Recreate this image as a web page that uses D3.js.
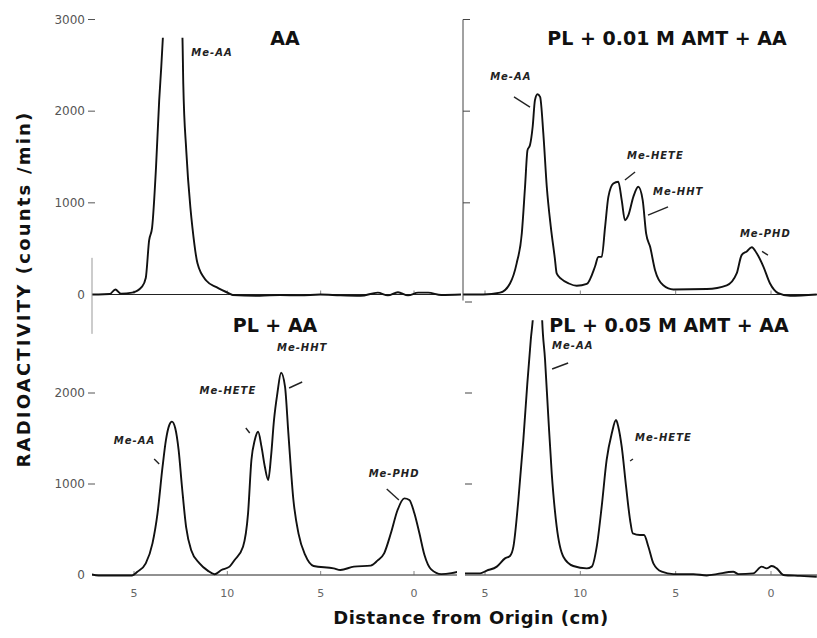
<!DOCTYPE html>
<html>
<head>
<meta charset="utf-8">
<script src="https://cdn.jsdelivr.net/npm/d3@7"></script>
<style>
  body { margin: 0; background: #fff; }
  svg { display: block; }
</style>
</head>
<body>
<svg id="chart" width="817" height="638"></svg>
<script>
// tick values (cm from origin, counts/min)
var yTickValues = [0, 1000, 2000, 3000];
var yTickLabels = ["0", "1000", "2000", "3000"];
var xTickValues = [15, 10, 5, 0];
var xTickLabels = ["5", "10", "5", "0"];

// AA alone
var distAA = [17.3, 16.9, 16.3, 16.0, 15.7, 15.1, 14.57, 14.37, 14.19, 14.03, 13.82, 13.65, 13.54, 13.44, 12.95, 12.41, 12.36, 12.2, 11.98, 11.87, 11.6, 11.12, 10.58, 9.88, 9.71, 8.26, 7.18, 6.1, 5.02, 3.94, 2.86, 1.94, 1.4, 0.86, 0.32, -0.22, -0.76, -1.46, -2.6];
var countsAA = [0, 0, 5, 55, 10, 20, 85, 180, 590, 730, 1390, 2120, 2480, 2850, 4200, 2850, 2300, 1570, 950, 730, 340, 150, 80, 10, -5, -15, -5, -10, 0, -10, -15, 20, -10, 25, -10, 20, 20, -5, 0];

// PL + 0.01 M AMT + AA
var distPL01 = [16.15, 15.09, 14.21, 13.69, 13.34, 13.07, 12.9, 12.77, 12.64, 12.5, 12.38, 12.25, 12.11, 11.94, 11.76, 11.55, 11.34, 11.24, 11.0, 10.6, 10.19, 9.66, 9.23, 9.06, 8.88, 8.7, 8.53, 8.27, 8.01, 7.83, 7.66, 7.48, 7.22, 6.96, 6.73, 6.55, 6.34, 6.08, 5.65, 5.12, 3.37, 2.32, 1.8, 1.54, 1.27, 1.01, 0.75, 0.4, 0.05, -0.38, -1.0, -2.4];
var countsPL01 = [0, 0, 20, 120, 340, 667, 1175, 1575, 1630, 1830, 2120, 2185, 2155, 1755, 1175, 740, 400, 230, 170, 120, 95, 115, 305, 410, 410, 740, 1065, 1210, 1230, 1030, 810, 865, 1065, 1175, 1030, 667, 520, 265, 100, 55, 60, 100, 230, 430, 470, 515, 450, 305, 120, 15, -15, 0];

// PL + AA
var distPLAA = [17.34, 16.9, 15.1, 14.82, 14.37, 14.01, 13.74, 13.47, 13.29, 13.11, 12.97, 12.79, 12.61, 12.43, 12.21, 11.94, 11.49, 11.05, 10.69, 10.32, 9.88, 9.61, 9.16, 8.89, 8.71, 8.53, 8.35, 8.17, 7.99, 7.81, 7.66, 7.5, 7.32, 7.12, 6.91, 6.73, 6.46, 6.19, 5.83, 5.38, 4.3, 3.94, 3.22, 2.32, 1.96, 1.6, 1.24, 0.88, 0.52, 0.25, -0.02, -0.29, -0.56, -0.92, -1.46, -2.0, -2.36];
var countsPLAA = [10, -5, -5, 35, 128, 348, 678, 1190, 1483, 1648, 1685, 1612, 1374, 970, 530, 275, 128, 48, 8, 55, 92, 165, 311, 678, 1264, 1483, 1575, 1410, 1190, 1044, 1300, 1703, 1997, 2223, 2070, 1557, 824, 458, 220, 99, 73, 55, 92, 103, 158, 238, 458, 714, 842, 824, 678, 458, 220, 62, 10, 20, 35];

// PL + 0.05 M AMT + AA
var distPL05 = [16.05, 15.26, 14.91, 14.38, 13.95, 13.69, 13.51, 13.25, 12.99, 12.78, 12.6, 12.46, 12.18, 12.02, 11.85, 11.68, 11.5, 11.24, 10.89, 10.37, 9.66, 9.4, 9.14, 8.88, 8.62, 8.35, 8.13, 8.01, 7.83, 7.6, 7.39, 7.25, 6.87, 6.66, 6.43, 6.17, 5.73, 5.12, 4.07, 3.37, 2.85, 1.98, 1.71, 0.93, 0.49, 0.23, -0.04, -0.3, -0.65, -1.52, -2.4];
var countsPL05 = [18, 18, 48, 92, 183, 209, 311, 824, 1483, 2106, 2582, 2900, 4500, 2900, 2363, 1740, 1118, 531, 201, 99, 73, 92, 311, 751, 1264, 1557, 1703, 1630, 1410, 970, 604, 458, 440, 440, 311, 128, 36, 10, 10, -5, 10, 36, 10, 18, 92, 73, 99, 73, 0, -10, -20];

function init() {

  var svg = d3.select("#chart");

  // two x scales (left column / right column), two y scales (top row / bottom row)
  var xLeft = d3.scaleLinear().domain([15, 0]).range([134, 414]);
  var xRight = d3.scaleLinear().domain([15, 0]).range([485, 771]);
  var yTop = d3.scaleLinear().domain([0, 3000]).range([294.5, 19.5]);
  var yBot = d3.scaleLinear().domain([0, 3000]).range([575, 302]);

  var clipTop = 2800;

  var panels = [
    {id: "aa", x: xLeft, y: yTop, dist: distAA, counts: countsAA, x0: 92, x1: 461, side: "left", row: "top",
     title: "AA", tx: 285, ty: 45,
     notes: [{t: "Me-AA", cx: 11.93, cy: 2602}]},
    {id: "pl01", x: xRight, y: yTop, dist: distPL01, counts: countsPL01, x0: 463, x1: 817, side: "right", row: "top",
     title: "PL + 0.01 M AMT + AA", tx: 667, ty: 45,
     notes: [{t: "Me-AA", cx: 14.73, cy: 2340, a: [13.48, 2155, 12.64, 2045]},
             {t: "Me-HETE", cx: 7.55, cy: 1478, a: [7.13, 1336, 7.66, 1249]},
             {t: "Me-HHT", cx: 6.19, cy: 1085, a: [5.40, 955, 6.45, 867]},
             {t: "Me-PHD", cx: 1.63, cy: 627, a: [0.47, 470, 0.16, 430]}]},
    {id: "plaa", x: xLeft, y: yBot, dist: distPLAA, counts: countsPLAA, x0: 92, x1: 457, side: "left", row: "bottom",
     title: "PL + AA", tx: 275, ty: 332,
     notes: [{t: "Me-AA", cx: 16.08, cy: 1440, a: [13.92, 1275, 13.65, 1220]},
             {t: "Me-HETE", cx: 11.49, cy: 1989, a: [9.01, 1615, 8.8, 1560]},
             {t: "Me-HHT", cx: 7.34, cy: 2462, a: [5.99, 2121, 6.69, 2055]},
             {t: "Me-PHD", cx: 2.43, cy: 1077, a: [1.46, 945, 0.81, 824]}]},
    {id: "pl05", x: xRight, y: yBot, dist: distPL05, counts: countsPL05, x0: 465, x1: 817, side: "right", row: "bottom",
     title: "PL + 0.05 M AMT + AA", tx: 669, ty: 332,
     notes: [{t: "Me-AA", cx: 11.48, cy: 2484, a: [10.64, 2330, 11.48, 2264]},
             {t: "Me-HETE", cx: 7.13, cy: 1473, a: [7.39, 1253, 7.24, 1275]}]}
  ];

  var defs = svg.append("defs");

  panels.forEach(function(p) {
    var g = svg.append("g").attr("class", "panel " + p.id);

    defs.append("clipPath").attr("id", "clip-" + p.id)
      .append("rect")
        .attr("x", p.x0)
        .attr("y", p.y(clipTop))
        .attr("width", p.x1 - p.x0)
        .attr("height", p.y(-400) - p.y(clipTop));

    // baseline
    g.append("line")
      .attr("x1", p.x0).attr("x2", p.x1)
      .attr("y1", p.y(0)).attr("y2", p.y(0))
      .attr("stroke", "#222").attr("stroke-width", 1);

    // small ticks along baseline
    g.selectAll(".bt").data(xTickValues).enter().append("line")
      .attr("x1", function(d) { return p.x(d); })
      .attr("x2", function(d) { return p.x(d); })
      .attr("y1", p.y(0)).attr("y2", p.y(0) - 4)
      .attr("stroke", "#666").attr("stroke-width", 0.8);

    // trace
    var pts = p.dist.map(function(d, i) { return [d, p.counts[i]]; });
    var line = d3.line()
      .x(function(d) { return p.x(d[0]); })
      .y(function(d) { return p.y(d[1]); })
      .curve(d3.curveMonotoneX);

    g.append("path")
      .datum(pts)
      .attr("clip-path", "url(#clip-" + p.id + ")")
      .attr("fill", "none")
      .attr("stroke", "#111")
      .attr("stroke-width", 1.9)
      .attr("stroke-linejoin", "round")
      .attr("d", line);

    // panel title
    g.append("text")
      .attr("x", p.tx).attr("y", p.ty)
      .attr("text-anchor", "middle")
      .style("font", "bold 19px 'DejaVu Sans', sans-serif")
      .attr("fill", "#111")
      .text(p.title);

    // peak labels + arrows
    p.notes.forEach(function(n) {
      g.append("text")
        .attr("x", p.x(n.cx)).attr("y", p.y(n.cy))
        .style("font", "italic bold 10px 'DejaVu Sans', sans-serif")
        .style("letter-spacing", "1px")
        .attr("fill", "#222")
        .text(n.t);
      if (n.a) {
        g.append("line")
          .attr("x1", p.x(n.a[0])).attr("y1", p.y(n.a[1]))
          .attr("x2", p.x(n.a[2])).attr("y2", p.y(n.a[3]))
          .attr("stroke", "#222").attr("stroke-width", 1.4);
      }
    });

    // y axis
    var ticks = p.row == "top" ? yTickValues : yTickValues.slice(0, 3);
    if (p.side == "left") {
      g.selectAll(".yl").data(ticks).enter().append("text")
        .attr("x", 85)
        .attr("y", function(d) { return p.y(d); })
        .attr("dy", "0.35em")
        .attr("text-anchor", "end")
        .style("font", "12px 'DejaVu Sans', sans-serif")
        .attr("fill", "#555")
        .text(function(d) { return yTickLabels[yTickValues.indexOf(d)]; });
      g.selectAll(".yt").data(ticks.filter(function(d) { return d > 0; })).enter().append("line")
        .attr("x1", 88).attr("x2", 95)
        .attr("y1", function(d) { return p.y(d); })
        .attr("y2", function(d) { return p.y(d); })
        .attr("stroke", "#555").attr("stroke-width", 1);
    } else {
      g.selectAll(".yt").data(yTickValues.slice(1)).enter().append("line")
        .attr("x1", p.x0).attr("x2", p.x0 + 7)
        .attr("y1", function(d) { return p.y(d); })
        .attr("y2", function(d) { return p.y(d); })
        .attr("stroke", "#444").attr("stroke-width", 1);
      if (p.row == "top") {
        g.append("line")
          .attr("x1", p.x0).attr("x2", p.x0)
          .attr("y1", p.y(3000)).attr("y2", p.y(0) + 6)
          .attr("stroke", "#444").attr("stroke-width", 1);
      }
    }

    // x tick labels only under bottom row
    if (p.row == "bottom") {
      g.selectAll(".xl").data(xTickValues).enter().append("text")
        .attr("x", function(d) { return p.x(d); })
        .attr("y", p.y(0) + 22)
        .attr("text-anchor", "middle")
        .style("font", "11px 'DejaVu Sans', sans-serif")
        .attr("fill", "#666")
        .text(function(d, i) { return xTickLabels[i]; });
    }
  });

  // faint piece of the left axis where the rows meet
  svg.append("line")
    .attr("x1", 92).attr("x2", 92)
    .attr("y1", yTop(400)).attr("y2", yBot(2650))
    .attr("stroke", "#999").attr("stroke-width", 1);

  // axis titles
  svg.append("text")
    .attr("transform", "translate(30,289) rotate(-90)")
    .attr("text-anchor", "middle")
    .style("font", "bold 18px 'DejaVu Sans', sans-serif")
    .style("letter-spacing", "2.2px")
    .attr("fill", "#111")
    .text("RADIOACTIVITY (counts /min)");

  svg.append("text")
    .attr("x", 471).attr("y", 624)
    .attr("text-anchor", "middle")
    .style("font", "bold 18px 'DejaVu Sans', sans-serif")
    .style("letter-spacing", "0.5px")
    .attr("fill", "#111")
    .text("Distance from Origin (cm)");
}

window.onload = init;
</script>
</body>
</html>
